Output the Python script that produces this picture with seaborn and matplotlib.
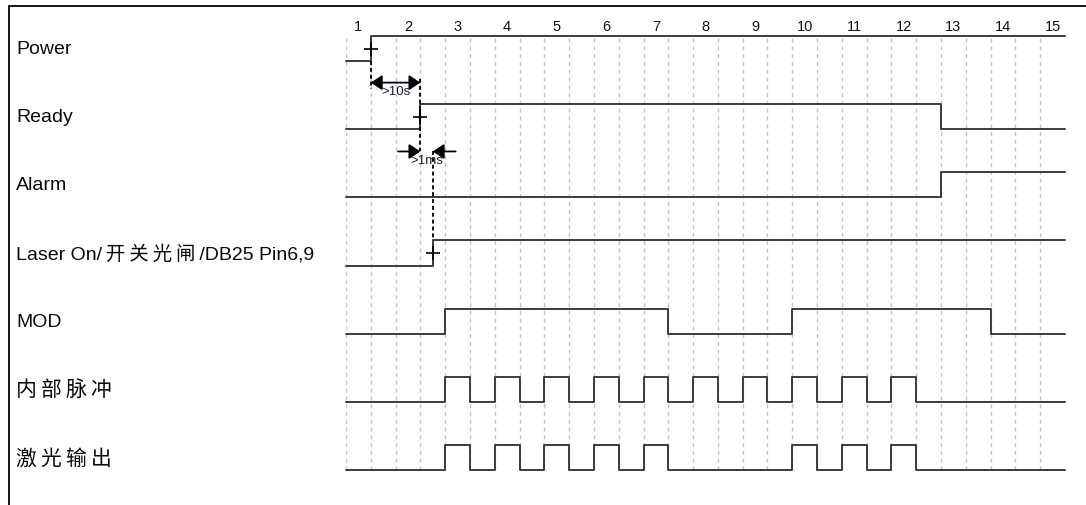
import matplotlib
matplotlib.use("Agg")
import matplotlib.pyplot as plt
import seaborn as sns
import numpy as np
import pandas as pd
from matplotlib.lines import Line2D
from matplotlib.transforms import blended_transform_factory

# ---------------- data ----------------
signal_names = ["Power", "Ready", "Alarm",
                "Laser On/\u2009开\u2009关\u2009光\u2009闸\u2009/DB25 Pin6,9",
                "MOD", "内\u2009部\u2009脉\u2009冲", "激\u2009光\u2009输\u2009出"]
label_sizes = [14, 14, 14, 14, 14, 15, 15]

# times in half-cycle units (grid line index), level 0 = low, 1 = high
power_t = [0, 1, 29]
power_v = [0, 1, 1]
ready_t = [0, 3, 24, 29]
ready_v = [0, 1, 0, 0]
alarm_t = [0, 24, 29]
alarm_v = [0, 1, 1]
laser_t = [0, 3.5, 29]
laser_v = [0, 1, 1]
mod_t = [0, 4, 13, 18, 26, 29]
mod_v = [0, 1, 0, 1, 0, 0]
pulse_t = [0, 4, 5, 6, 7, 8, 9, 10, 11, 12, 13, 14, 15, 16, 17, 18, 19, 20, 21, 22, 23, 29]
pulse_v = [0, 1, 0, 1, 0, 1, 0, 1, 0, 1, 0, 1, 0, 1, 0, 1, 0, 1, 0, 1, 0, 0]
output_t = [0, 4, 5, 6, 7, 8, 9, 10, 11, 12, 13, 18, 19, 20, 21, 22, 23, 29]
output_v = [0, 1, 0, 1, 0, 1, 0, 1, 0, 1, 0, 1, 0, 1, 0, 1, 0, 0]

tick_labels = ["1", "2", "3", "4", "5", "6", "7", "8", "9", "10",
               "11", "12", "13", "14", "15"]

signals_t = [power_t, ready_t, alarm_t, laser_t, mod_t, pulse_t, output_t]
signals_v = [power_v, ready_v, alarm_v, laser_v, mod_v, pulse_v, output_v]

# ---------------- style ----------------
sns.set_theme(style="white")
plt.rcParams['font.family'] = ['Liberation Sans', 'Noto Sans CJK SC', 'DejaVu Sans']

W, H = 1086, 506
fig = plt.figure(figsize=(W / 100, H / 100), dpi=100)
ax = fig.add_axes([346 / W, 35 / H, 719 / W, 434 / H])

AMP = 0.184          # half of the swing, in row units
LINE_COLOR = "#3c3c3c"

n_rows = len(signal_names)
for i, (t, v) in enumerate(zip(signals_t, signals_v)):
    df = pd.DataFrame({"t": t, "y": [i + AMP - 2 * AMP * lv for lv in v]})
    sns.lineplot(data=df, x="t", y="y", ax=ax, drawstyle="steps-post",
                 estimator=None, sort=False, color=LINE_COLOR, lw=1.4,
                 clip_on=False)

ax.set_xlim(0, 29)
ax.set_ylim(n_rows - 1 + AMP, -AMP)

# grid lines at every half-cycle, labels at the cycle centres
ax.set_xticks(np.arange(0, 29), minor=True)
ax.set_xticks(np.arange(len(tick_labels)) * 2 + 0.5)
ax.set_xticklabels(tick_labels)
ax.set_yticks([])
ax.grid(False)
ax.grid(which="minor", axis="x", color="#c4c4c4", lw=1.0, ls=(0, (3, 2.6)))
ax.set_axisbelow(True)
ax.xaxis.set_ticks_position("top")
ax.tick_params(axis="x", which="both", top=True, bottom=False, labeltop=True,
               labelbottom=False, length=0, pad=2.5, labelsize=10.5,
               labelcolor="#111111")
ax.set_xlabel("")
ax.set_ylabel("")
for s in ax.spines.values():
    s.set_visible(False)

# signal names on the left
trans = blended_transform_factory(fig.transFigure, ax.transData)
for i, name in enumerate(signal_names):
    ax.text(16 / W, i, name, transform=trans, ha="left", va="center",
            fontsize=label_sizes[i], color="#0a0a0a", clip_on=False)

# ---------------- timing annotations ----------------
dash = (0, (2.2, 1.6))
arrow_kw = dict(color="black", lw=1.3, mutation_scale=15, shrinkA=0, shrinkB=0)
# Power -> Ready  (>10s)
ax.plot([power_t[1], power_t[1]], [0 + AMP, 0.6], color="black", lw=1.3, ls=dash, clip_on=False)
ax.plot([ready_t[1], ready_t[1]], [0.45, 1.5], color="black", lw=1.3, ls=dash, clip_on=False)
ax.annotate("", xy=(ready_t[1], 0.5), xytext=(power_t[1], 0.5),
            arrowprops=dict(arrowstyle="<|-|>,head_length=0.45,head_width=0.3", **arrow_kw))
ax.text((power_t[1] + ready_t[1]) / 2 + 0.02, 0.625, ">10s", ha="center", va="center",
        fontsize=9.5, color="#1a1a40")

# Ready -> Laser On  (>1ms)
ax.plot([laser_t[1], laser_t[1]], [1.5, 3 - AMP], color="black", lw=1.3, ls=dash, clip_on=False)
ax.annotate("", xy=(ready_t[1], 1.51), xytext=(2.1, 1.51),
            arrowprops=dict(arrowstyle="-|>,head_length=0.45,head_width=0.3", **arrow_kw))
ax.annotate("", xy=(laser_t[1], 1.51), xytext=(4.42, 1.51),
            arrowprops=dict(arrowstyle="-|>,head_length=0.45,head_width=0.3", **arrow_kw))
ax.text(3.27, 1.64, ">1ms", ha="center", va="center", fontsize=9.5, color="#1a1a40")

# edge markers
for x, row in [(power_t[1], 0), (ready_t[1], 1), (laser_t[1], 3)]:
    ax.plot([x], [row], marker="+", ms=10, mew=1.2, color="black", clip_on=False)

# frame remnants (left and top border of the original canvas)
fig.add_artist(Line2D([8.5 / W, 8.5 / W], [0, 1 - 6.5 / H], transform=fig.transFigure,
                      color="black", lw=1.3))
fig.add_artist(Line2D([8.5 / W, 1], [1 - 6.5 / H, 1 - 6.5 / H], transform=fig.transFigure,
                      color="black", lw=1.3))

fig.savefig("out.png", dpi=100, facecolor="white")
